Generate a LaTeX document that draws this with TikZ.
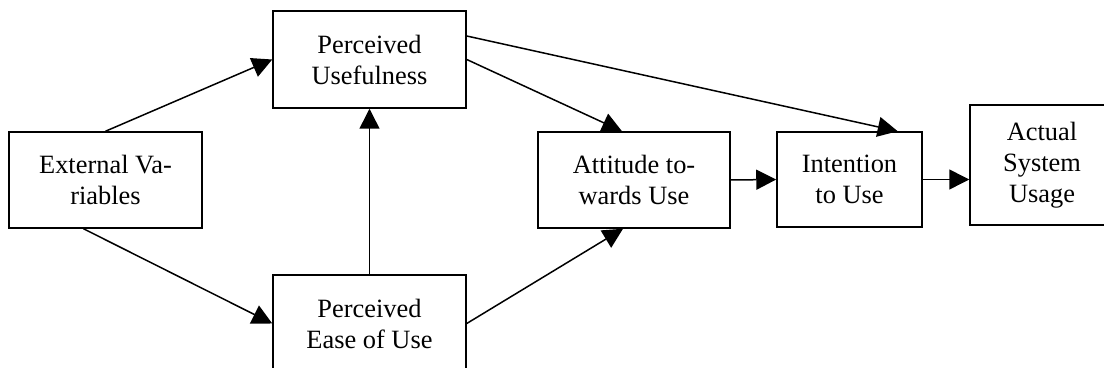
\documentclass[tikz,border=0pt]{standalone}
\usepackage{fontspec}
\setmainfont{Liberation Serif}
\usetikzlibrary{arrows.meta}

\tikzset{
  box/.style={draw, line width=0.75pt, inner sep=0pt, align=center,
    font=\fontsize{13.2}{15.5}\selectfont},
  arr/.style={draw, line width=0.75pt, -{Triangle[length=10pt,width=10pt]}}
}

\begin{document}
\begin{tikzpicture}[x=0.5pt, y=-0.5pt]
  \useasboundingbox (0,0) rectangle (1104,368);
  \clip (0,0) rectangle (1104,368);

  \node[box, minimum width=96.5pt, minimum height=48pt]   (ext)  at (105.5,180)  {External Va-\\riables};
  \node[box, minimum width=96.5pt, minimum height=48.5pt] (pu)   at (369.5,59.5)  {Perceived\\Usefulness};
  \node[box, minimum width=96.5pt, minimum height=48.5pt] (peou) at (369.5,323.5) {Perceived\\Ease of Use};
  \node[box, minimum width=96pt,   minimum height=48pt]   (att)  at (634,180)    {Attitude to-\\wards Use};
  \node[box, minimum width=72.5pt, minimum height=47.5pt] (int)  at (849.5,179.5) {Intention\\to Use};
  \node[box, minimum width=72pt,   minimum height=60pt]   (act)  at (1042,165)   {Actual\\System\\Usage};

  \draw[arr] (ext.north) -- (pu.west);
  \draw[arr] ([xshift=-11pt]ext.south) -- (peou.west);
  \draw[arr] (peou.north) -- (pu.south);
  \draw[arr] (pu.east) -- ([xshift=-6pt]att.north);
  \draw[arr] ([yshift=11.75pt]pu.east) -- ([xshift=-12.5pt]int.north east);
  \draw[arr] (peou.east) -- ([xshift=-5.5pt]att.south);
  \draw[arr] (att.east) -- (int.west);
  \draw[arr] (int.east) -- (int.east -| act.west);
\end{tikzpicture}
\end{document}
